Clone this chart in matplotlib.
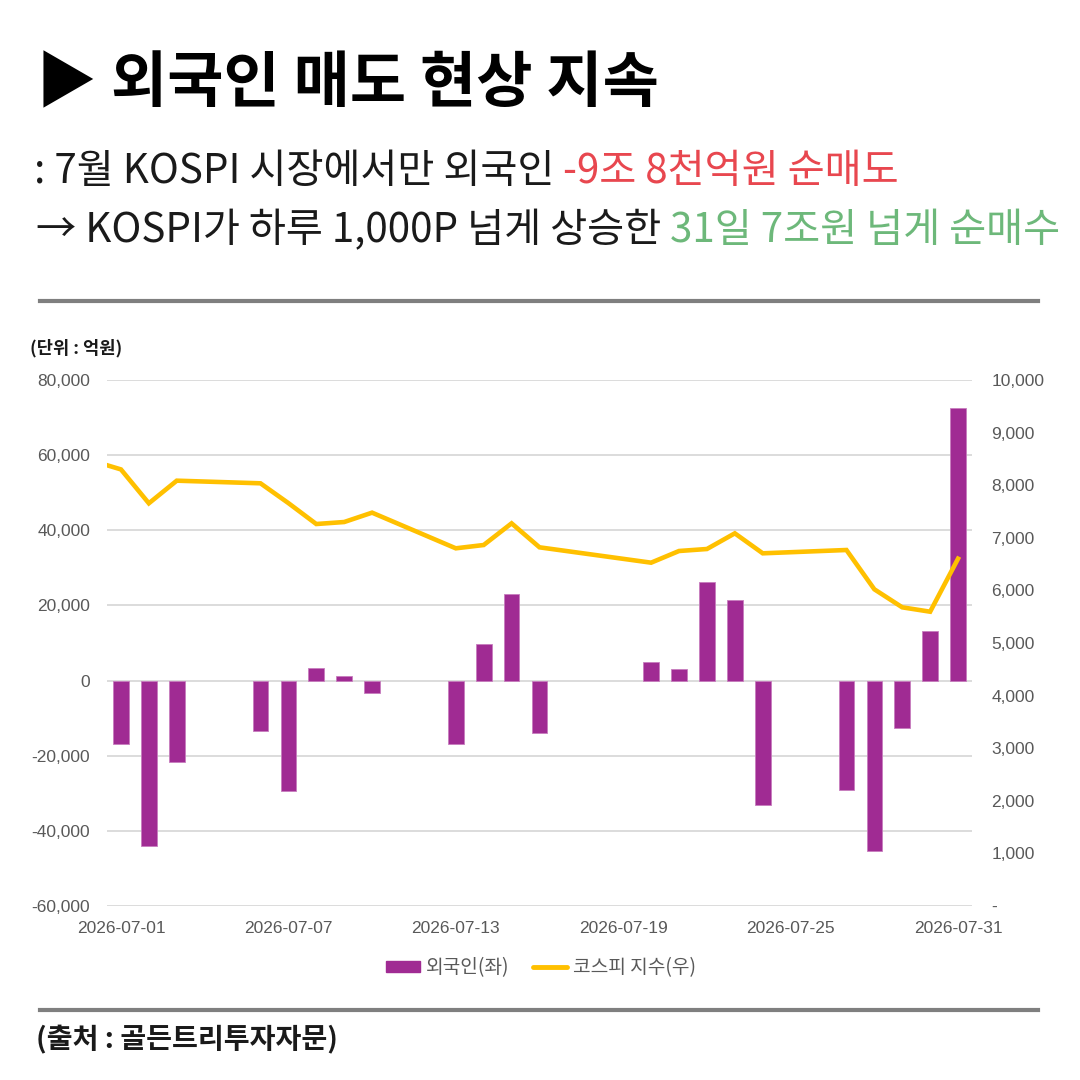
import matplotlib
matplotlib.use("Agg")
import matplotlib.pyplot as plt
import matplotlib.dates as mdates
import matplotlib.ticker as mticker
from matplotlib.patches import Patch
from matplotlib.lines import Line2D
import pandas as pd

plt.rcParams['font.family'] = ['Noto Sans CJK KR', 'DejaVu Sans']

# ---------------- data ----------------
bar_dates = ['2026-07-01', '2026-07-02', '2026-07-03', '2026-07-06', '2026-07-07',
             '2026-07-08', '2026-07-09', '2026-07-10', '2026-07-13', '2026-07-14',
             '2026-07-15', '2026-07-16', '2026-07-20', '2026-07-21', '2026-07-22',
             '2026-07-23', '2026-07-24', '2026-07-27', '2026-07-28', '2026-07-29',
             '2026-07-30', '2026-07-31']
foreign_net = [-17000, -44100, -21700, -13400, -29400,
               3300, 1250, -3200, -17000, 9760,
               23060, -13900, 5050, 3140, 26180,
               21470, -33000, -29000, -45400, -12500,
               13220, 72630]

kospi_dates = ['2026-06-30'] + bar_dates
kospi_index = [8460, 8300, 7656, 8086, 8036, 7660,
               7262, 7300, 7478, 6800, 6863,
               7275, 6819, 6527, 6749, 6787,
               7085, 6705, 6768, 6021, 5678,
               5595, 6603]

xtick_dates = ['2026-07-01', '2026-07-07', '2026-07-13', '2026-07-19', '2026-07-25', '2026-07-31']
left_ticks = [-60000, -40000, -20000, 0, 20000, 40000, 60000, 80000]
right_ticks = [0, 1000, 2000, 3000, 4000, 5000, 6000, 7000, 8000, 9000, 10000]

title_text = '▶ 외국인 매도 현상 지속'
sub1 = [(': 7월 KOSPI 시장에서만 외국인 ', '#1a1a1a'), ('-9조 8천억원 순매도', '#E8474F')]
sub2 = [('→ KOSPI가 하루 1,000P 넘게 상승한 ', '#1a1a1a'), ('31일 7조원 넘게 순매수', '#6DB87A')]
unit_text = '(단위 : 억원)'
source_text = '(출처 : 골든트리투자자문)'
bar_label = '외국인(좌)'
line_label = '코스피 지수(우)'

PURPLE = '#A02B93'
YELLOW = '#FFC000'
TICKC = '#595959'
GRIDC = '#D9D9D9'

# ---------------- figure ----------------
W = H = 1080
fig = plt.figure(figsize=(10.8, 10.8), dpi=100)
fig.patch.set_facecolor('white')

def fx(px):
    return px / W

def fy(py):
    return 1 - py / H

ax = fig.add_axes([fx(107), fy(906), fx(972) - fx(107), fy(380) - fy(906)])
ax2 = ax.twinx()

bd = pd.to_datetime(bar_dates)
kd = pd.to_datetime(kospi_dates)

ax.bar(bd, foreign_net, width=0.56, color=PURPLE, edgecolor='#C77DBE', linewidth=0.6, zorder=3)
ax2.plot(kd, kospi_index, color=YELLOW, linewidth=3.3, solid_joinstyle='miter', zorder=4)

ax.set_ylim(-60000, 80000)
ax2.set_ylim(0, 10000)
ax.set_yticks(left_ticks)
ax2.set_yticks(right_ticks)
ax.yaxis.set_major_formatter(mticker.FuncFormatter(lambda v, p: f'{int(v):,}'))
ax2.yaxis.set_major_formatter(mticker.FuncFormatter(lambda v, p: '-' if v == 0 else f'{int(v):,}'))

xl0 = pd.Timestamp('2026-06-30 12:00')
xl1 = pd.Timestamp('2026-07-31 12:00')
ax.set_xlim(xl0, xl1)
ax.set_xticks(pd.to_datetime(xtick_dates))
ax.xaxis.set_major_formatter(mdates.DateFormatter('%Y-%m-%d'))

ax.grid(axis='y', color=GRIDC, linewidth=1.3, zorder=0)
ax.set_axisbelow(True)
for a in (ax, ax2):
    for s in a.spines.values():
        s.set_visible(False)
ax.set_zorder(1)
ax2.set_zorder(2)
ax2.patch.set_visible(False)

ax.tick_params(axis='y', length=0, pad=12, labelcolor=TICKC)
ax.tick_params(axis='x', length=0, pad=11, labelcolor=TICKC)
ax2.tick_params(axis='y', length=0, pad=14, labelcolor=TICKC)
for lab in ax.get_yticklabels() + ax.get_xticklabels() + ax2.get_yticklabels():
    lab.set_fontfamily(['Liberation Sans', 'DejaVu Sans'])
    lab.set_fontsize(12.5)

# legend
handles = [Patch(facecolor=PURPLE, edgecolor=PURPLE),
           Line2D([0], [0], color=YELLOW, linewidth=3.5, solid_capstyle='round')]
leg = fig.legend(handles, [bar_label, line_label], loc='center', bbox_to_anchor=(fx(541), fy(968)),
                 ncol=2, frameon=False, fontsize=13.8, handlelength=1.75, handleheight=0.55,
                 columnspacing=1.25, handletextpad=0.3)
for t in leg.get_texts():
    t.set_color(TICKC)

# ---------------- texts ----------------
fig.text(fx(36), fy(102), title_text, fontsize=44, fontweight='black', color='black',
         ha='left', va='baseline')

fig.canvas.draw()
renderer = fig.canvas.get_renderer()

def draw_pieces(pieces, x0, ybase, size, weight='regular'):
    x = x0
    for txt, col in pieces:
        t = fig.text(x, ybase, txt, fontsize=size, color=col, fontweight=weight,
                     ha='left', va='baseline')
        bb = t.get_window_extent(renderer)
        x = x + bb.width / W

draw_pieces(sub1, fx(34), fy(183), 29, 'medium')
draw_pieces(sub2, fx(36), fy(242), 29, 'medium')

fig.add_artist(Line2D([fx(40), fx(1038)], [fy(301), fy(301)], color='#7F7F7F', linewidth=3))
fig.add_artist(Line2D([fx(40), fx(1038)], [fy(1010), fy(1010)], color='#7F7F7F', linewidth=3))

fig.text(fx(30), fy(353), unit_text, fontsize=12.7, fontweight='bold', color='#1a1a1a',
         ha='left', va='baseline')
fig.text(fx(36), fy(1048), source_text, fontsize=20.3, fontweight='bold', color='#1a1a1a',
         ha='left', va='baseline')

fig.savefig('out.png', dpi=100, facecolor='white')
